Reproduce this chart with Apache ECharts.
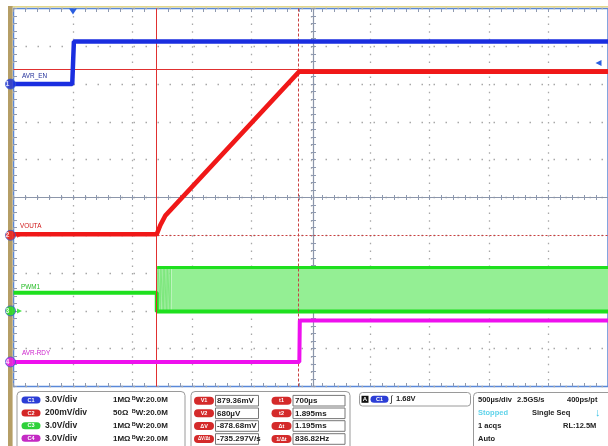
<!DOCTYPE html>
<html><head><meta charset="utf-8">
<script src="https://cdn.jsdelivr.net/npm/echarts@6/dist/echarts.min.js"></script>
<style>html,body{margin:0;padding:0;background:#fff}#c{width:608px;height:446px}</style>
</head><body><div id="c"></div>
<script>
// ---- time base (µs relative to trigger), 500 µs/div, 10 div ----
const timeMin = -500, timeMax = 4500, timeDiv = 500;

// ---- channel settings: V/div and ground position (div above screen centre) ----
const ch1Scale = 3.0, ch1Ground = 3;
const ch2Scale = 0.2, ch2Ground = -1;
const ch3Scale = 3.0, ch3Ground = -3;
const ch4Scale = 3.0, ch4Ground = -4.35;

// ---- CH1 AVR_EN (V) ----
const ch1T = [-500, -6, 8, 4500];
const ch1V = [0, 0, 3.38, 3.38];

// ---- CH2 VOUTA (V) ----
const ch2T = [-500, 705, 735, 777, 1902, 4500];
const ch2V = [0.006, 0.006, 0.054, 0.104, 0.866, 0.866];

// ---- CH3 PWM1 (V) ----
const ch3T = [-500, 705, 705, 4500];
const ch3V = [1.45, 1.45, -0.05, -0.05];
const pwmLow = -0.05, pwmHigh = 3.45;
const pwmSoftStartPulses = [708, 722, 735, 748, 760, 772, 784, 796, 808, 820];
const pwmPulseWidth = 2;
const pwmBandStart = 828;

// ---- CH4 AVR-RDY (V) ----
const ch4T = [-500, 1904, 1908, 4500];
const ch4V = [0, 0, 3.28, 3.28];

// ---- cursors ----
const cursorT1 = 700, cursorT2 = 1895;       // µs
const cursorV1 = 0.87936, cursorV2 = 0.00068; // V on CH2
const triggerLevel = 1.68;                   // V on CH1

const chColors = ['#1a2ee0', '#f01818', '#1ee01e', '#ee10ee'];
const chNames = ['AVR_EN', 'VOUTA', 'PWM1', 'AVR-RDY'];

function zip(t, v) { return t.map((x, i) => [x, v[i]]); }
function rng(s, g) { return { min: +((-5 - g) * s).toFixed(4), max: +((5 - g) * s).toFixed(4) }; }

const pulseData = [];
pwmSoftStartPulses.forEach(t => {
  pulseData.push([t, pwmLow], [t, pwmHigh], [t + pwmPulseWidth, pwmHigh], [t + pwmPulseWidth, pwmLow]);
});

const hidden = { show: false };
function chAxis(s, g) {
  const r = rng(s, g);
  return { type: 'value', min: r.min, max: r.max, show: false, axisLine: { onZero: false }, splitLine: hidden };
}
const tickCol = '#8f9ab0';
const dotCol = '#a8a8a8';

const baseX = { type: 'value', min: timeMin, max: timeMax, interval: timeDiv, axisLabel: hidden };
const baseDivY = { type: 'value', min: -5, max: 5, interval: 1, axisLabel: hidden };

function marker(idx, num, arrow) {
  const s = [{
    type: 'scatter', yAxisIndex: idx, data: [[timeMin, 0]], symbol: 'circle', symbolSize: 10,
    symbolOffset: [-3, 0], clip: false, silent: true, z: 10,
    itemStyle: { color: chColors[idx], borderColor: '#3a5cc8', borderWidth: 1 },
    label: { show: true, position: 'inside', formatter: String(num), color: '#fff', fontSize: 7, fontWeight: 'bold', offset: [-3, 0] }
  }];
  if (arrow) s.push({
    type: 'scatter', yAxisIndex: idx, data: [[timeMin, 0]], symbol: 'triangle', symbolRotate: -90,
    symbolSize: 5, symbolOffset: [6, 0], clip: false, silent: true, z: 10, itemStyle: { color: chColors[idx] }
  });
  return s;
}

const font = 'Liberation Sans, Arial, sans-serif';
const G = [];
function txt(x, y, t, size, color, weight, extra) {
  G.push(Object.assign({ type: 'text', x: x, y: y, z: 100, style: {
    text: t, fill: color || '#222', font: (weight || 'bold') + ' ' + size + 'px ' + font,
    textVerticalAlign: 'middle', verticalAlign: 'middle', textAlign: 'left', align: 'left' } }, extra || {}));
}
function box(x, y, w, h, r, fill, stroke, lw, z) {
  G.push({ type: 'rect', z: z == null ? 99 : z, shape: { x: x, y: y, width: w, height: h, r: r },
    style: { fill: fill, stroke: stroke || null, lineWidth: lw || 1 } });
}
function pill(cx, cy, w, h, color, label, fs) {
  box(cx - w / 2, cy - h / 2, w, h, h / 2, color, null);
  G.push({ type: 'text', x: cx, y: cy, z: 101, style: { text: label, fill: '#fff',
    font: 'bold ' + (fs || 5.5) + 'px ' + font, textAlign: 'center', align: 'center',
    textVerticalAlign: 'middle', verticalAlign: 'middle' } });
}

// frame decorations (behind the series)
box(8, 6, 600, 1.6, 0, '#e4d88a', null, 1, 0);
box(8, 6, 4.6, 440, 0, '#b59e66', null, 1, 0);

// channel labels on the screen
txt(22, 76, chNames[0], 7.5, '#22309a', 'normal', { scaleX: 0.85 });
txt(20, 226, chNames[1], 7.5, '#d01818', 'normal', { scaleX: 0.85 });
txt(21, 286.5, chNames[2], 7.5, '#22bb22', 'normal', { scaleX: 0.85 });
txt(22, 352.5, chNames[3], 7.5, '#cc22cc', 'normal', { scaleX: 0.85 });

// panel 1 : channel settings
box(17, 391.5, 168, 62, 4, '#fff', '#9a9a9a');
const rowsA = [400, 413, 425.7, 438.3];
const chScaleText = ['3.0V/div', '200mV/div', '3.0V/div', '3.0V/div'];
const chImp = ['1MΩ', '50Ω', '1MΩ', '1MΩ'];
const chBw = ['ᴮW:20.0M', 'ᴮW:20.0M', 'ᴮW:20.0M', 'ᴮW:20.0M'];
const pillCols = ['#2c3ed6', '#d42626', '#2ed13a', '#c42ac4'];
rowsA.forEach((y, i) => {
  pill(31, y, 19, 7, pillCols[i], 'C' + (i + 1));
  txt(45, y, chScaleText[i], 8.5);
  txt(113, y, chImp[i], 8);
  txt(132, y, chBw[i], 8);
});

// panel 2 : cursor readouts
box(191, 391.5, 159, 62, 4, '#fff', '#9a9a9a');
const rowsB = [400.7, 413.3, 426, 439];
const curLabA = ['V1', 'V2', 'ΔV', 'ΔV/Δt'];
const curValA = ['879.36mV', '680µV', '-878.68mV', '-735.297V/s'];
const curLabB = ['t1', 't2', 'Δt', '1/Δt'];
const curValB = ['700µs', '1.895ms', '1.195ms', '836.82Hz'];
rowsB.forEach((y, i) => {
  pill(204, y, 20, 8, '#d42a2a', curLabA[i], i === 3 ? 4.5 : 5.5);
  box(215.5, y - 5.3, 43, 10.6, 0, '#fff', '#777');
  txt(217, y, curValA[i], 8);
  pill(281.5, y, 20, 8, '#d42a2a', curLabB[i], 5.5);
  box(293, y - 5.3, 52, 10.6, 0, '#fff', '#777');
  txt(295, y, curValB[i], 8);
});

// panel 3 : trigger
box(359.5, 392.5, 111, 13.5, 3, '#fff', '#9a9a9a');
box(361.5, 395.8, 7, 7, 0, '#111');
G.push({ type: 'text', x: 365, y: 399.5, z: 101, style: { text: 'A', fill: '#fff', font: 'bold 6px ' + font,
  textAlign: 'center', align: 'center', textVerticalAlign: 'middle', verticalAlign: 'middle' } });
pill(379.5, 399.3, 18, 7, '#2c3ed6', 'C1');
txt(390, 399.3, '∫', 9, '#222', 'normal');
txt(396, 399.3, '1.68V', 7.5);

// panel 4 : acquisition
box(473.5, 392.5, 145, 62, 4, '#fff', '#9a9a9a');
const rowsC = [400, 413, 426, 439];
txt(478, rowsC[0], '500µs/div', 7.5); txt(517, rowsC[0], '2.5GS/s', 7.5); txt(567, rowsC[0], '400ps/pt', 7.5);
txt(478, rowsC[1], 'Stopped', 7.5, '#5fd3ea'); txt(532, rowsC[1], 'Single Seq', 7.5);
txt(595, rowsC[1], '↓', 11, '#3ec3e6');
txt(478, rowsC[2], '1 acqs', 7.5); txt(563, rowsC[2], 'RL:12.5M', 7.5);
txt(478, rowsC[3], 'Auto', 7.5);

const option = {
  animation: false,
  backgroundColor: '#fff',
  grid: { left: 13.5, top: 8.5, width: 600, height: 378, show: true, borderColor: '#5a88d8', borderWidth: 1.5 },
  xAxis: [
    Object.assign({}, baseX, { axisLine: { show: false, onZero: false }, axisTick: hidden,
      splitLine: { show: true, lineStyle: { color: dotCol, width: 1.3, type: [1.5, 6.06] } } }),
    Object.assign({}, baseX, { position: 'top', axisLine: { show: false, onZero: false }, splitLine: hidden,
      axisTick: { show: true, inside: true, length: 3.5, lineStyle: { color: tickCol } },
      minorTick: { show: true, splitNumber: 5, length: 3.5, lineStyle: { color: tickCol } } }),
    Object.assign({}, baseX, { position: 'bottom', axisLine: { show: false, onZero: false }, splitLine: hidden,
      axisTick: { show: true, inside: true, length: 3.5, lineStyle: { color: tickCol } },
      minorTick: { show: true, splitNumber: 5, length: 3.5, lineStyle: { color: tickCol } } }),
    Object.assign({}, baseX, { position: 'bottom', offset: -189, axisLine: { show: true, onZero: false, lineStyle: { color: '#8c96aa', width: 1.2 } },
      splitLine: hidden,
      axisTick: { show: true, inside: true, length: 2.5, lineStyle: { color: tickCol } },
      minorTick: { show: true, splitNumber: 5, length: 2.5, lineStyle: { color: tickCol } } }),
    Object.assign({}, baseX, { position: 'bottom', offset: -189, axisLine: { show: false, onZero: false },
      splitLine: hidden,
      axisTick: { show: true, inside: false, length: 2.5, lineStyle: { color: tickCol } },
      minorTick: { show: true, splitNumber: 5, length: 2.5, lineStyle: { color: tickCol } } })
  ],
  yAxis: [
    chAxis(ch1Scale, ch1Ground), chAxis(ch2Scale, ch2Ground), chAxis(ch3Scale, ch3Ground), chAxis(ch4Scale, ch4Ground),
    Object.assign({}, baseDivY, { position: 'left', axisLine: { show: false, onZero: false },
      splitLine: { show: true, lineStyle: { color: dotCol, width: 1.3, type: [1.5, 10.5] } },
      axisTick: { show: true, inside: true, length: 3.5, lineStyle: { color: tickCol } },
      minorTick: { show: true, splitNumber: 5, length: 3.5, lineStyle: { color: tickCol } } }),
    Object.assign({}, baseDivY, { position: 'left', offset: -300, axisLine: { show: true, onZero: false, lineStyle: { color: '#8c96aa', width: 1.2 } },
      splitLine: hidden,
      axisTick: { show: true, inside: true, length: 2.5, lineStyle: { color: tickCol } },
      minorTick: { show: true, splitNumber: 5, length: 2.5, lineStyle: { color: tickCol } } }),
    Object.assign({}, baseDivY, { position: 'left', offset: -300, axisLine: { show: false, onZero: false },
      splitLine: hidden,
      axisTick: { show: true, inside: false, length: 2.5, lineStyle: { color: tickCol } },
      minorTick: { show: true, splitNumber: 5, length: 2.5, lineStyle: { color: tickCol } } })
  ],
  graphic: G,
  series: [
    { name: 'PWM1 band', type: 'line', yAxisIndex: 2, data: [[pwmBandStart, pwmHigh], [timeMax, pwmHigh]],
      symbol: 'none', silent: true, z: 3, lineStyle: { width: 0 },
      areaStyle: { color: '#94ef94', opacity: 1, origin: pwmLow } },
    { name: 'PWM1 soft start', type: 'line', yAxisIndex: 2, data: pulseData, symbol: 'none', silent: true, z: 3,
      lineStyle: { width: 1, color: '#7de87d' } },
    { name: 'PWM1 high', type: 'line', yAxisIndex: 2, data: [[pwmSoftStartPulses[0], pwmHigh], [timeMax, pwmHigh]],
      symbol: 'none', silent: true, z: 4, lineStyle: { width: 3, color: chColors[2] } },
    { name: chNames[2], type: 'line', yAxisIndex: 2, data: zip(ch3T, ch3V), symbol: 'none', silent: true, z: 4,
      lineStyle: { width: 4, color: chColors[2] } },
    { name: chNames[3], type: 'line', yAxisIndex: 3, data: zip(ch4T, ch4V), symbol: 'none', silent: true, z: 5,
      lineStyle: { width: 4, color: chColors[3] } },
    { name: chNames[0], type: 'line', yAxisIndex: 0, data: zip(ch1T, ch1V), symbol: 'none', silent: true, z: 5,
      lineStyle: { width: 4.5, color: chColors[0] },
      markPoint: { symbol: 'triangle', symbolSize: [8, 6], symbolRotate: 180, symbolOffset: [0, 3], silent: true,
        itemStyle: { color: '#2a5ee0' }, label: hidden,
        data: [{ coord: [0, rng(ch1Scale, ch1Ground).max] }, { coord: [4420, triggerLevel], symbolRotate: 90, symbolSize: [6, 6], symbolOffset: [0, 0] }] } },
    { name: chNames[1], type: 'line', yAxisIndex: 1, data: zip(ch2T, ch2V), symbol: 'none', silent: true, z: 6,
      lineStyle: { width: 4.5, color: chColors[1] },
      markLine: { symbol: ['none', 'none'], silent: true, label: hidden, lineStyle: { color: '#e03030', width: 1, type: 'solid' },
        data: [
          { xAxis: cursorT1 },
          { xAxis: cursorT2, lineStyle: { type: [3, 2], color: '#c84040' } },
          { yAxis: cursorV1 },
          { yAxis: cursorV2, lineStyle: { type: [2, 2], color: '#c84040' } }
        ] } }
  ].concat(marker(0, 1, false), marker(1, 2, true), marker(2, 3, true), marker(3, 4, false))
};

const chart = echarts.init(document.getElementById('c'));
chart.setOption(option);
</script>
</body></html>
